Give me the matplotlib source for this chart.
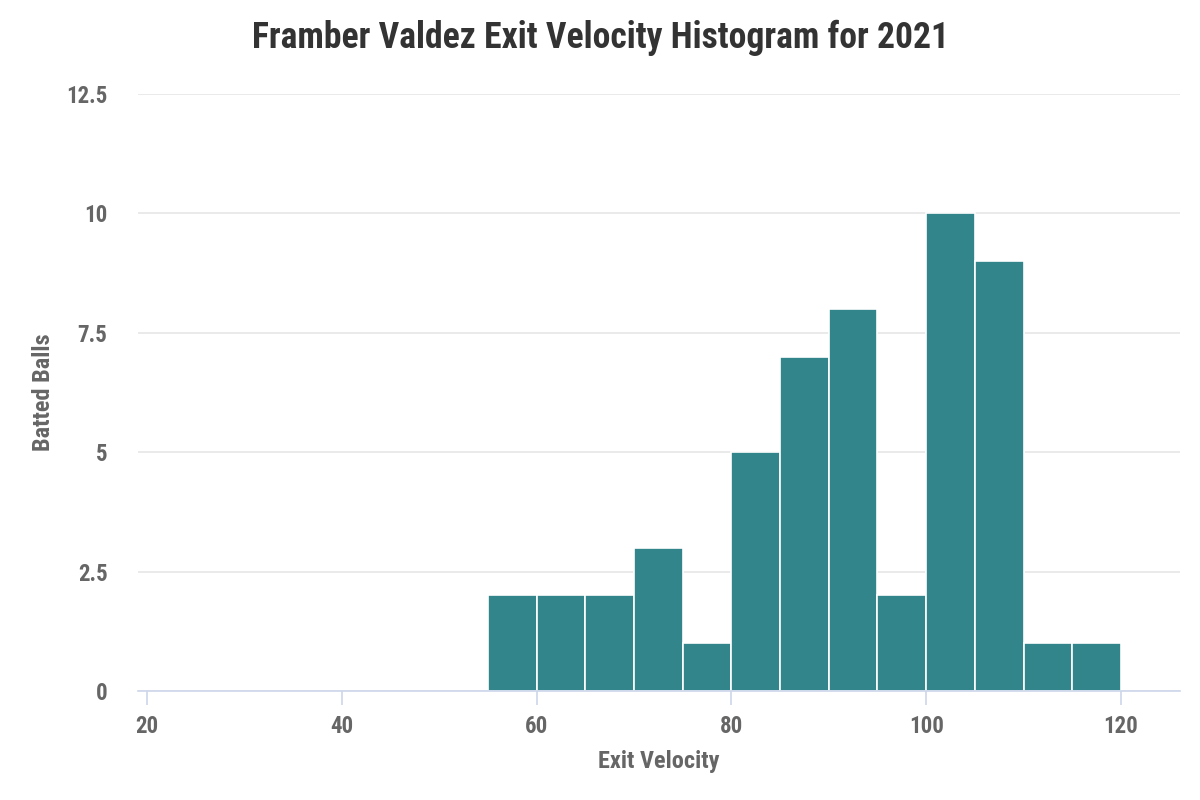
import matplotlib
matplotlib.use("Agg")
import matplotlib.pyplot as plt
from matplotlib import font_manager

bin_edges = [55, 60, 65, 70, 75, 80, 85, 90, 95, 100, 105, 110, 115, 120]
counts = [2, 2, 2, 3, 1, 5, 7, 8, 2, 10, 9, 1, 1]
x_ticks = [20, 40, 60, 80, 100, 120]
y_ticks = [0, 2.5, 5, 7.5, 10, 12.5]
y_tick_labels = ["0", "2.5", "5", "7.5", "10", "12.5"]

avail = {f.name for f in font_manager.fontManager.ttflist}
fam = "DejaVu Sans"
for cand in ["Roboto Condensed", "Liberation Sans Narrow", "Roboto", "DejaVu Sans"]:
    if cand in avail:
        fam = cand
        break
plt.rcParams['font.family'] = [fam, 'DejaVu Sans']

fig = plt.figure(figsize=(12, 8), dpi=100)
ax = fig.add_axes([0.115, 0.13625, 0.8683, 0.74625])

lefts = bin_edges[:-1]
widths = [b - a for a, b in zip(bin_edges[:-1], bin_edges[1:])]
ax.bar(lefts, counts, width=widths, align='edge', color='#32858a',
       edgecolor='white', linewidth=1.2, zorder=3)

ax.set_xlim(19.08, 126.06)
ax.set_ylim(0, 12.5)
ax.set_xticks(x_ticks)
ax.set_yticks(y_ticks)
ax.set_yticklabels(y_tick_labels)

for s in ['top', 'right', 'left']:
    ax.spines[s].set_visible(False)
ax.spines['bottom'].set_color('#ccd6eb')
ax.spines['bottom'].set_linewidth(1.2)
ax.spines['bottom'].set_zorder(4)

ax.grid(axis='y', color='#e6e6e6', linewidth=1.2, zorder=0)
ax.set_axisbelow(True)

ax.tick_params(axis='x', length=10, width=1.2, color='#ccd6eb', pad=7,
               labelsize=16.5, labelcolor='#666666')
ax.tick_params(axis='y', length=0, pad=22, labelsize=16.5, labelcolor='#666666')
for lab in ax.get_xticklabels() + ax.get_yticklabels():
    lab.set_fontweight('bold')

ax.set_xlabel('Exit Velocity', fontsize=17.5, fontweight='bold', color='#666666', labelpad=9)
ax.set_ylabel('Batted Balls', fontsize=17.5, fontweight='bold', color='#666666', labelpad=8)
fig.suptitle('Framber Valdez Exit Velocity Histogram for 2021', x=0.5, y=0.975,
             fontsize=25.7, fontweight='bold', color='#333333')

fig.savefig('out.png', dpi=100, facecolor='white')
